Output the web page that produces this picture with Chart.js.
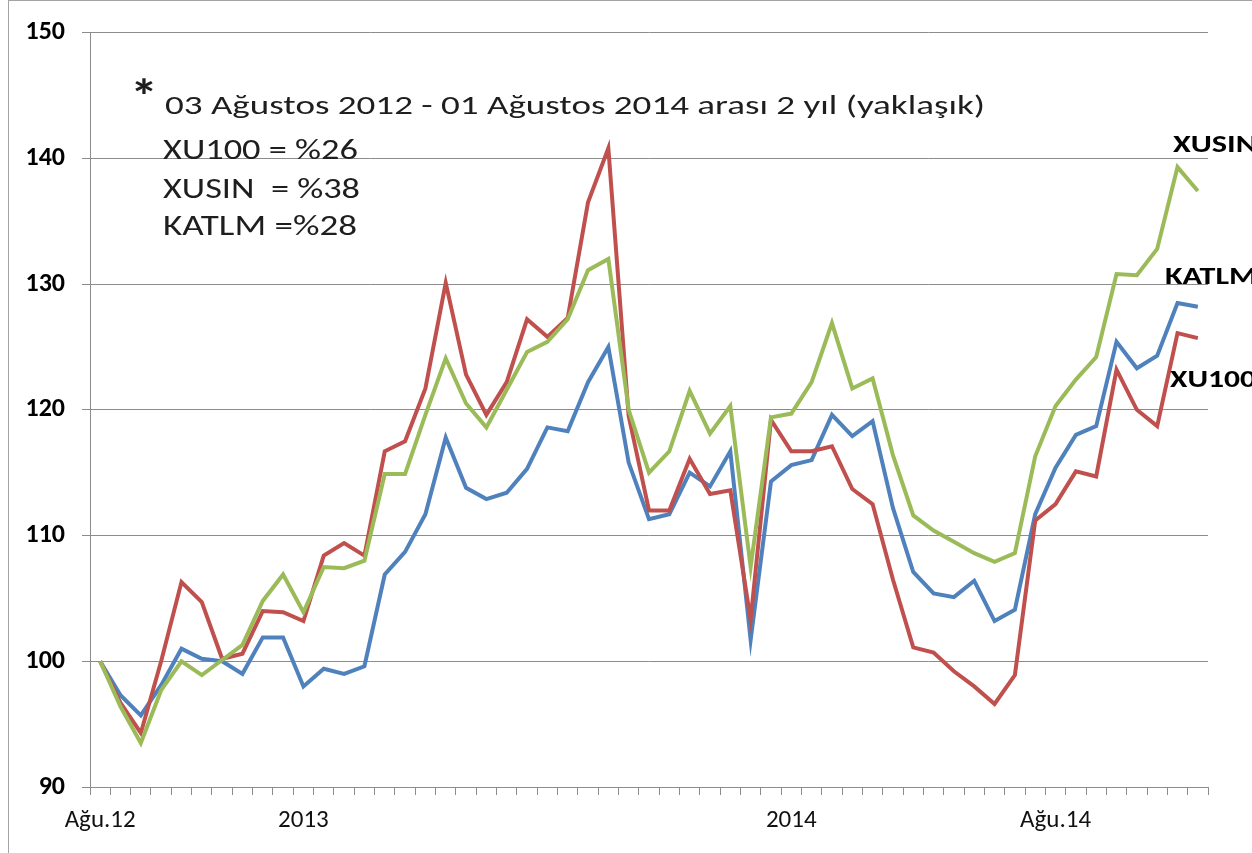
<!DOCTYPE html>
<html>
<head>
<meta charset="utf-8">
<script src="https://cdn.jsdelivr.net/npm/chart.js@4"></script>
<style>
  html, body { margin: 0; padding: 0; background: #fff; overflow: hidden; }
  #wrap { position: relative; width: 1252px; height: 853px; }
  #frame { position: absolute; left: 8px; top: 0; width: 1300px; height: 900px;
           border: 1px solid #a3a3a3; box-sizing: border-box; pointer-events: none; }
  canvas { position: absolute; left: 0; top: 0; }
</style>
</head>
<body>
<div id="wrap">
  <canvas id="chart" width="1252" height="853"></canvas>
  <div id="frame"></div>
</div>
<script>
// categories (55 periods, only a few carry a label)
const categories = [
  'Ağu.12', '', '', '', '', '', '', '', '', '',
  '2013', '', '', '', '', '', '', '', '', '',
  '', '', '', '', '', '', '', '', '', '',
  '', '', '', '', '2014', '', '', '', '', '',
  '', '', '', '', '', '', '', 'Ağu.14', '', '',
  '', '', '', '', ''
];

// index values, 03.08.2012 = 100
const xu100 = [
  100, 96.7, 94.3, 100.0, 106.3, 104.7, 100.2, 100.6, 104.0, 103.9,
  103.2, 108.4, 109.4, 108.4, 116.7, 117.5, 121.7, 130.1, 122.8, 119.6,
  122.2, 127.2, 125.8, 127.3, 136.5, 140.8, 119.5, 112.0, 112.0, 116.1,
  113.3, 113.6, 103.3, 119.2, 116.7, 116.7, 117.1, 113.7, 112.5, 106.5,
  101.1, 100.7, 99.2, 98.0, 96.6, 98.9, 111.2, 112.5, 115.1, 114.7,
  123.2, 120.0, 118.7, 126.1, 125.7
];
const xusin = [
  100, 96.4, 93.5, 97.7, 100.0, 98.9, 100.1, 101.3, 104.8, 106.9,
  103.9, 107.5, 107.4, 108.0, 114.9, 114.9, 119.6, 124.1, 120.5, 118.6,
  121.6, 124.6, 125.4, 127.2, 131.1, 132.0, 120.0, 115.0, 116.7, 121.5,
  118.1, 120.3, 107.5, 119.4, 119.7, 122.2, 126.9, 121.7, 122.5, 116.4,
  111.6, 110.4, 109.5, 108.6, 107.9, 108.6, 116.3, 120.3, 122.4, 124.2,
  130.8, 130.7, 132.8, 139.3, 137.4
];
const katlm = [
  100, 97.3, 95.7, 98.1, 101.0, 100.2, 100.0, 99.0, 101.9, 101.9,
  98.0, 99.4, 99.0, 99.6, 106.9, 108.7, 111.7, 117.8, 113.8, 112.9,
  113.4, 115.3, 118.6, 118.3, 122.2, 125.0, 115.8, 111.3, 111.7, 115.0,
  113.9, 116.7, 101.7, 114.3, 115.6, 116.0, 119.6, 117.9, 119.1, 112.2,
  107.1, 105.4, 105.1, 106.4, 103.2, 104.1, 111.7, 115.4, 118.0, 118.7,
  125.4, 123.3, 124.3, 128.5, 128.2
];

const yTicks = [90, 100, 110, 120, 130, 140, 150];

const noteLines = [
  '03 Ağustos 2012 - 01 Ağustos 2014 arası 2 yıl (yaklaşık)',
  'XU100 = %26',
  'XUSIN  = %38',
  'KATLM =%28'
];

const FONT = 'Carlito, Lato, "Open Sans", sans-serif';
const NOTE_FONT = 'Carlito, "Open Sans", sans-serif';
const GRID = '#8c8c8c';

// draws text with a given cap height, squeezed/stretched to a given width
function fitText(ctx, text, x, baseline, cap, width, family, weight) {
  ctx.font = weight + ' 100px ' + family;
  const capRatio = ctx.measureText('H').actualBoundingBoxAscent / 100;
  const size = cap / capRatio;
  ctx.font = weight + ' ' + size + 'px ' + family;
  const w = ctx.measureText(text).width;
  ctx.save();
  ctx.translate(x, baseline);
  ctx.scale(width / w, 1);
  ctx.textAlign = 'left';
  ctx.textBaseline = 'alphabetic';
  ctx.fillText(text, 0, 0);
  ctx.restore();
}

// draws a glyph so that its ink box lands on the given box
function fitGlyph(ctx, glyph, left, top, w, h, family, weight) {
  ctx.font = weight + ' 100px ' + family;
  const m = ctx.measureText(glyph);
  const inkW = m.actualBoundingBoxLeft + m.actualBoundingBoxRight;
  const inkH = m.actualBoundingBoxAscent + m.actualBoundingBoxDescent;
  ctx.save();
  ctx.translate(left, top);
  ctx.scale(w / inkW, h / inkH);
  ctx.textAlign = 'left';
  ctx.textBaseline = 'alphabetic';
  ctx.fillText(glyph, m.actualBoundingBoxLeft, m.actualBoundingBoxAscent);
  ctx.restore();
}

const notesPlugin = {
  id: 'notes',
  afterDraw(chart) {
    const ctx = chart.ctx;
    ctx.save();
    ctx.fillStyle = '#1e1e1e';
    fitGlyph(ctx, '*', 135, 78, 18, 16, NOTE_FONT, 'bold');
    fitText(ctx, noteLines[0], 165, 114, 17.3, 820, NOTE_FONT, 'normal');
    fitText(ctx, noteLines[1], 163, 159, 19.2, 195, NOTE_FONT, 'normal');
    fitText(ctx, noteLines[2], 163, 197.5, 19.2, 197, NOTE_FONT, 'normal');
    fitText(ctx, noteLines[3], 163, 234.5, 19.2, 194, NOTE_FONT, 'normal');

    // series names at the right end
    ctx.fillStyle = '#000';
    fitText(ctx, 'XUSIN', 1173, 152, 15.5, 84, FONT, 'bold');
    fitText(ctx, 'KATLM', 1165, 283.5, 16, 92, FONT, 'bold');
    fitText(ctx, 'XU100', 1170, 387, 16, 86, FONT, 'bold');
    ctx.restore();
  }
};

new Chart(document.getElementById('chart'), {
  type: 'line',
  data: {
    labels: categories,
    datasets: [
      { label: 'XUSIN', data: xusin, borderColor: '#9bbb59' },
      { label: 'XU100', data: xu100, borderColor: '#c0504d' },
      { label: 'KATLM', data: katlm, borderColor: '#4f81bd' }
    ]
  },
  options: {
    responsive: false,
    animation: false,
    layout: { padding: { left: 0, top: 28, right: 44, bottom: 0 } },
    elements: {
      line: { borderWidth: 4, tension: 0, borderCapStyle: 'butt', borderJoinStyle: 'miter' },
      point: { radius: 0, hoverRadius: 0 }
    },
    plugins: {
      legend: { display: false },
      tooltip: { enabled: false }
    },
    scales: {
      x: {
        type: 'category',
        offset: true,
        grid: { offset: true, drawOnChartArea: false, drawTicks: true, tickLength: 8, color: GRID, lineWidth: 1 },
        border: { color: GRID, width: 1 },
        ticks: {
          autoSkip: false, maxRotation: 0, minRotation: 0, padding: 11,
          color: '#111', font: { family: FONT, size: 25, weight: 'normal' }
        },
        afterFit(scale) { scale.height = 66; }
      },
      y: {
        min: yTicks[0],
        max: yTicks[yTicks.length - 1],
        afterBuildTicks(scale) { scale.ticks = yTicks.map(v => ({ value: v })); },
        grid: { color: GRID, lineWidth: 1, tickLength: 8 },
        border: { color: GRID, width: 1 },
        ticks: {
          padding: 17, color: '#000',
          font: { family: FONT, size: 26, weight: 'bold' }
        },
        afterFit(scale) { scale.width = 90; }
      }
    }
  },
  plugins: [notesPlugin]
});
</script>
</body>
</html>
